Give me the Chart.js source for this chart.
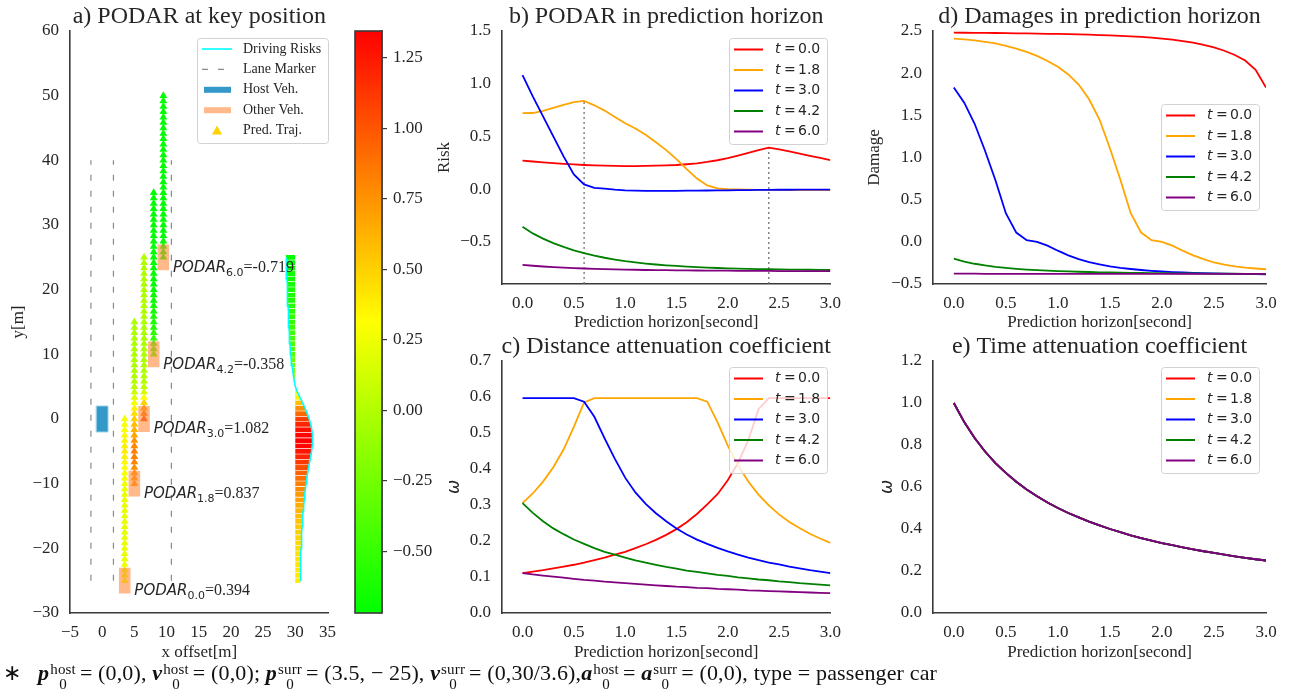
<!DOCTYPE html>
<html lang="en">
<head>
<meta charset="utf-8">
<title>PODAR</title>
<script src="https://cdn.jsdelivr.net/npm/chart.js@4.4.1/dist/chart.umd.min.js"></script>
<style>
    html, body { margin: 0; background: #fff; }
    #figure { position: relative; width: 1289px; height: 691px; overflow: hidden; background: #fff; }
    #figure canvas { position: absolute; }
    .note { position: absolute; left: 3px; top: 662px; font: 22px 'Liberation Serif', serif; color: #111; white-space: nowrap; line-height: 22px; letter-spacing: 0.15px; }
    .note b { font-style: italic; }
    .st { display: inline-block; vertical-align: -9px; font-size: 15px; line-height: 15px; margin: 0 4px 0 1px; text-align: center; }
    .st span { display: block; }
</style>
</head>
<body>
<div id="figure">
    <canvas id="keyPos" width="345" height="675" style="left:0;top:0"></canvas>
    <canvas id="riskBar" width="100" height="660" style="left:340px;top:0"></canvas>
    <canvas id="podarChart" width="420" height="335" style="left:430px;top:0"></canvas>
    <canvas id="distChart" width="420" height="335" style="left:430px;top:330px"></canvas>
    <canvas id="damageChart" width="429" height="335" style="left:860px;top:0"></canvas>
    <canvas id="timeChart" width="429" height="335" style="left:860px;top:330px"></canvas>
    <div class="note">∗&nbsp;&nbsp; <b>p</b><span class="st"><span>host</span><span>0</span></span>= (0,0), <b>v</b><span class="st"><span>host</span><span>0</span></span>= (0,0); <b>p</b><span class="st"><span>surr</span><span>0</span></span>= (3.5, − 25), <b>v</b><span class="st"><span>surr</span><span>0</span></span>= (0,30/3.6),<b>a</b><span class="st"><span>host</span><span>0</span></span>= <b>a</b><span class="st"><span>surr</span><span>0</span></span>= (0,0), type = passenger car</div>
</div>
<script>
// prediction horizon steps [s]
const horizon = [0.0, 0.1, 0.2, 0.3, 0.4, 0.5, 0.6, 0.7, 0.8, 0.9, 1.0, 1.1, 1.2, 1.3, 1.4, 1.5,
    1.6, 1.7, 1.8, 1.9, 2.0, 2.1, 2.2, 2.3, 2.4, 2.5, 2.6, 2.7, 2.8, 2.9, 3.0];
const keyTimes = [0.0, 1.8, 3.0, 4.2, 6.0];
const seriesColors = ['#ff0000', '#ffa500', '#0000ff', '#008000', '#800080'];

// b) PODAR inside the horizon, one row per key time
const podar = [
    [0.270, 0.262, 0.254, 0.246, 0.240, 0.234, 0.229, 0.225, 0.222, 0.220, 0.219, 0.219, 0.220, 0.222, 0.225, 0.229,
     0.236, 0.245, 0.258, 0.274, 0.294, 0.318, 0.344, 0.370, 0.394, 0.378, 0.358, 0.337, 0.316, 0.296, 0.276],
    [0.720, 0.722, 0.742, 0.770, 0.800, 0.825, 0.837, 0.795, 0.745, 0.685, 0.625, 0.575, 0.515, 0.445, 0.370, 0.285,
     0.190, 0.100, 0.035, 0.008, 0.000, -0.003, -0.005, -0.007, -0.008, -0.009, -0.010, -0.010, -0.010, -0.010, -0.010],
    [1.082, 0.880, 0.690, 0.500, 0.310, 0.140, 0.045, 0.012, 0.004, -0.005, -0.011, -0.014, -0.016, -0.016, -0.016, -0.016,
     -0.015, -0.014, -0.013, -0.012, -0.011, -0.010, -0.009, -0.008, -0.007, -0.006, -0.006, -0.005, -0.005, -0.004, -0.004],
    [-0.358, -0.420, -0.470, -0.512, -0.548, -0.580, -0.607, -0.631, -0.651, -0.668, -0.683, -0.695, -0.706, -0.715, -0.723, -0.729,
     -0.735, -0.740, -0.744, -0.748, -0.751, -0.754, -0.756, -0.758, -0.760, -0.762, -0.763, -0.764, -0.765, -0.766, -0.767],
    [-0.719, -0.727, -0.734, -0.740, -0.745, -0.749, -0.753, -0.756, -0.759, -0.761, -0.763, -0.765, -0.767, -0.768, -0.769, -0.770,
     -0.771, -0.772, -0.773, -0.774, -0.774, -0.775, -0.775, -0.776, -0.776, -0.777, -0.777, -0.777, -0.778, -0.778, -0.778]
];

// c) distance attenuation coefficient
const distCoef = [
    [0.111, 0.115, 0.119, 0.124, 0.129, 0.134, 0.140, 0.147, 0.154, 0.162, 0.170, 0.180, 0.191, 0.203, 0.217, 0.233,
     0.252, 0.275, 0.302, 0.330, 0.369, 0.417, 0.480, 0.566, 0.597, 0.597, 0.597, 0.597, 0.597, 0.597, 0.597],
    [0.305, 0.332, 0.365, 0.405, 0.454, 0.517, 0.585, 0.597, 0.597, 0.597, 0.597, 0.597, 0.597, 0.597, 0.597, 0.597,
     0.597, 0.597, 0.587, 0.530, 0.465, 0.410, 0.365, 0.329, 0.299, 0.274, 0.253, 0.236, 0.220, 0.207, 0.195],
    [0.597, 0.597, 0.597, 0.597, 0.597, 0.597, 0.587, 0.545, 0.485, 0.428, 0.376, 0.335, 0.303, 0.277, 0.255, 0.235,
     0.218, 0.204, 0.192, 0.181, 0.171, 0.162, 0.154, 0.147, 0.140, 0.135, 0.129, 0.124, 0.119, 0.115, 0.111],
    [0.305, 0.278, 0.255, 0.235, 0.219, 0.204, 0.192, 0.180, 0.170, 0.162, 0.154, 0.146, 0.140, 0.134, 0.128, 0.123,
     0.118, 0.114, 0.110, 0.106, 0.103, 0.099, 0.096, 0.093, 0.091, 0.088, 0.086, 0.083, 0.081, 0.079, 0.077],
    [0.111, 0.107, 0.104, 0.101, 0.098, 0.095, 0.092, 0.090, 0.087, 0.085, 0.083, 0.081, 0.079, 0.077, 0.075, 0.073,
     0.072, 0.070, 0.069, 0.067, 0.066, 0.065, 0.063, 0.062, 0.061, 0.060, 0.059, 0.058, 0.057, 0.056, 0.055]
];

// d) damage inside the horizon
const damage = [
    [2.480, 2.479, 2.478, 2.477, 2.476, 2.475, 2.473, 2.471, 2.469, 2.467, 2.465, 2.462, 2.459, 2.456, 2.452, 2.448,
     2.443, 2.437, 2.430, 2.421, 2.410, 2.397, 2.381, 2.361, 2.336, 2.305, 2.266, 2.216, 2.150, 2.040, 1.830],
    [2.410, 2.400, 2.390, 2.372, 2.352, 2.325, 2.292, 2.252, 2.205, 2.145, 2.075, 1.985, 1.865, 1.690, 1.450, 1.110,
     0.740, 0.340, 0.110, 0.020, 0.000, -0.045, -0.105, -0.160, -0.205, -0.245, -0.270, -0.290, -0.305, -0.316, -0.325],
    [1.830, 1.650, 1.400, 1.080, 0.730, 0.340, 0.110, 0.020, 0.000, -0.045, -0.105, -0.160, -0.205, -0.240, -0.268, -0.290,
     -0.308, -0.322, -0.334, -0.344, -0.352, -0.358, -0.363, -0.367, -0.371, -0.374, -0.377, -0.379, -0.381, -0.383, -0.385],
    [-0.200, -0.235, -0.260, -0.280, -0.296, -0.309, -0.320, -0.329, -0.336, -0.342, -0.347, -0.351, -0.355, -0.358, -0.361, -0.363,
     -0.365, -0.367, -0.369, -0.370, -0.372, -0.373, -0.374, -0.375, -0.376, -0.377, -0.378, -0.378, -0.379, -0.380, -0.380],
    [-0.378, -0.378, -0.378, -0.379, -0.379, -0.379, -0.379, -0.379, -0.380, -0.380, -0.380, -0.380, -0.380, -0.380, -0.380, -0.380,
     -0.380, -0.380, -0.380, -0.380, -0.380, -0.380, -0.380, -0.380, -0.380, -0.380, -0.380, -0.380, -0.380, -0.380, -0.380]
];

// e) time attenuation coefficient, identical for every key time
const timeCoef = [1.000, 0.909, 0.833, 0.769, 0.714, 0.667, 0.625, 0.588, 0.556, 0.526, 0.500, 0.476, 0.455, 0.435, 0.417, 0.400,
    0.385, 0.370, 0.357, 0.345, 0.333, 0.323, 0.313, 0.303, 0.294, 0.286, 0.278, 0.270, 0.263, 0.256, 0.250];

// a) surrounding vehicle at each key time (x shifted per key time so the columns don't overlap)
const surrX = [3.5, 5.0, 6.5, 8.0, 9.5];
const surrY = [-25, -10, 0, 10, 25];
const surrSpeed = 30 / 3.6;
const hostPos = [0, 0];
const vehWidth = 1.8;
const vehLength = 4.0;
const laneX = [-1.75, 1.75, 10.75];
const laneSpan = [-25, 40];

// driving risk over the whole run, drawn as a profile next to the road
const runTimes = [0.0, 0.1, 0.2, 0.3, 0.4, 0.5, 0.6, 0.7, 0.8, 0.9, 1.0, 1.1, 1.2, 1.3, 1.4, 1.5, 1.6, 1.7, 1.8, 1.9,
    2.0, 2.1, 2.2, 2.3, 2.4, 2.5, 2.6, 2.7, 2.8, 2.9, 3.0, 3.1, 3.2, 3.3, 3.4, 3.5, 3.6, 3.7, 3.8, 3.9,
    4.0, 4.1, 4.2, 4.3, 4.4, 4.5, 4.6, 4.7, 4.8, 4.9, 5.0, 5.1, 5.2, 5.3, 5.4, 5.5, 5.6, 5.7, 5.8, 5.9, 6.0];
const drivingRisk = [0.394, 0.400, 0.410, 0.420, 0.430, 0.440, 0.455, 0.470, 0.490, 0.510,
    0.530, 0.555, 0.585, 0.615, 0.650, 0.690, 0.735, 0.785, 0.837, 0.895,
    0.960, 1.035, 1.115, 1.195, 1.265, 1.315, 1.345, 1.330, 1.285, 1.200,
    1.082, 0.930, 0.760, 0.570, 0.365, 0.165, 0.010, -0.080, -0.145, -0.200,
    -0.255, -0.310, -0.358, -0.390, -0.420, -0.445, -0.468, -0.490, -0.510, -0.530,
    -0.550, -0.570, -0.588, -0.605, -0.622, -0.638, -0.654, -0.670, -0.686, -0.702, -0.719];
const riskBase = 30;
const riskStretch = 2;

// tick values
const xTicksA = [-5, 0, 5, 10, 15, 20, 25, 30, 35];
const yTicksA = [-30, -20, -10, 0, 10, 20, 30, 40, 50, 60];
const barTicks = [-0.5, -0.25, 0, 0.25, 0.5, 0.75, 1.0, 1.25];
const horizonTicks = [0, 0.5, 1.0, 1.5, 2.0, 2.5, 3.0];
const podarTicks = [-0.5, 0, 0.5, 1.0, 1.5];
const distTicks = [0, 0.1, 0.2, 0.3, 0.4, 0.5, 0.6, 0.7];
const damageTicks = [-0.5, 0, 0.5, 1.0, 1.5, 2.0, 2.5];
const timeTicks = [0, 0.2, 0.4, 0.6, 0.8, 1.0, 1.2];

const ink = '#262626';
const serif = "'Liberation Serif', serif";
const tickFont = { family: serif, size: 17 };
const labelFont = { family: serif, size: 17 };
const omegaFont = { family: "'DejaVu Sans'", size: 17, style: 'italic' };
const spine = { display: true, color: '#3a3a3a', width: 1.6 };

const cmapLow = Math.min(...drivingRisk);
const cmapHigh = Math.max(...drivingRisk);

// green -> yellow -> red
function riskColor(v) {
    const f = Math.min(1, Math.max(0, (v - cmapLow) / (cmapHigh - cmapLow)));
    if (f < 0.5) {
        return `rgb(${Math.round(510 * f)},255,0)`;
    }
    return `rgb(255,${Math.round(255 - 510 * (f - 0.5))},0)`;
}

const fmtTick = (decimals) => (v) => (v < 0 ? '\u2212' : '') + Math.abs(v).toFixed(decimals);

function axis(cfg) {
    const horizontal = cfg.position === 'bottom';
    return {
        type: 'linear',
        position: cfg.position,
        min: cfg.min,
        max: cfg.max,
        offset: false,
        grid: { display: false, drawTicks: false },
        border: spine,
        ticks: {
            color: ink,
            font: tickFont,
            padding: horizontal ? 9 : 11,
            autoSkip: false,
            maxRotation: 0,
            callback: fmtTick(cfg.decimals),
        },
        afterBuildTicks: (scale) => {
            scale.ticks = cfg.ticks.map((value) => ({ value }));
        },
        afterFit: (scale) => {
            if (horizontal) {
                scale.height = cfg.size;
            } else {
                scale.width = cfg.size;
            }
        },
        title: {
            display: true,
            text: cfg.title,
            color: ink,
            font: cfg.font || labelFont,
            padding: horizontal ? { top: 0, bottom: cfg.pad } : { top: cfg.pad, bottom: 0 },
        },
    };
}

const panelTitle = {
    id: 'panelTitle',
    afterDraw: (chart, args, opts) => {
        const { ctx, chartArea } = chart;
        ctx.save();
        ctx.font = `24px ${serif}`;
        ctx.fillStyle = ink;
        ctx.textAlign = 'center';
        ctx.textBaseline = 'alphabetic';
        ctx.fillText(opts.text, (chartArea.left + chartArea.right) / 2, chartArea.top - 8);
        ctx.restore();
    }
};

function legendFrame(ctx, x, y, w, h) {
    ctx.beginPath();
    if (ctx.roundRect) {
        ctx.roundRect(x + 0.5, y + 0.5, w, h, 3);
    } else {
        ctx.rect(x + 0.5, y + 0.5, w, h);
    }
    ctx.fillStyle = 'rgba(255,255,255,0.8)';
    ctx.fill();
    ctx.strokeStyle = '#d2d2d2';
    ctx.lineWidth = 1;
    ctx.stroke();
}

// legend for the horizon panels, drawn above the curves
const seriesLegend = {
    id: 'seriesLegend',
    afterDraw: (chart, args, opts) => {
        const ctx = chart.ctx;
        const x0 = opts.left;
        const y0 = opts.top;
        ctx.save();
        legendFrame(ctx, x0, y0, 98, 106);
        chart.data.datasets.forEach((ds, i) => {
            const cy = y0 + 11.5 + i * 20.5;
            ctx.beginPath();
            ctx.moveTo(x0 + 5, cy);
            ctx.lineTo(x0 + 34, cy);
            ctx.strokeStyle = ds.borderColor;
            ctx.lineWidth = 2;
            ctx.stroke();
            ctx.fillStyle = ink;
            ctx.textAlign = 'left';
            ctx.textBaseline = 'middle';
            ctx.font = "italic 14px 'DejaVu Sans'";
            ctx.fillText('t', x0 + 46, cy);
            ctx.font = "14px 'DejaVu Sans'";
            ctx.fillText('=', x0 + 55, cy);
            ctx.fillText(ds.label, x0 + 69, cy);
        });
        ctx.restore();
    }
};

// dotted drop lines from the peak of every curve that peaks later in the horizon
const peakLines = {
    id: 'peakLines',
    beforeDatasetsDraw: (chart) => {
        const { ctx, chartArea, scales: { x, y } } = chart;
        ctx.save();
        ctx.setLineDash([2, 3]);
        ctx.strokeStyle = '#666';
        ctx.lineWidth = 1.2;
        chart.data.datasets.forEach((ds) => {
            const ys = ds.data.map((p) => p.y);
            const k = ys.indexOf(Math.max(...ys));
            if (k === 0) return;
            const px = x.getPixelForValue(ds.data[k].x);
            ctx.beginPath();
            ctx.moveTo(px, chartArea.bottom);
            ctx.lineTo(px, y.getPixelForValue(ds.data[k].y));
            ctx.stroke();
        });
        ctx.restore();
    }
};

function horizonChart(id, rows, cfg) {
    const plugins = [panelTitle, seriesLegend];
    if (cfg.peaks) plugins.push(peakLines);
    return new Chart(document.getElementById(id), {
        type: 'line',
        data: {
            datasets: rows.map((row, i) => ({
                label: keyTimes[i].toFixed(1),
                data: row.map((v, j) => ({ x: horizon[j], y: v })),
                borderColor: seriesColors[i],
                borderWidth: 1.8,
                pointRadius: 0,
                tension: 0,
                order: rows.length - i,
            })),
        },
        options: {
            responsive: false,
            animation: false,
            devicePixelRatio: 1,
            events: [],
            layout: { padding: { top: 31, right: cfg.right, left: 0, bottom: 0 } },
            scales: {
                x: axis({ position: 'bottom', min: -0.2, max: 3.0, ticks: horizonTicks, decimals: 1,
                    size: cfg.xSize, title: 'Prediction horizon[second]', pad: 1.8 }),
                y: axis({ position: 'left', min: cfg.min, max: cfg.max, ticks: cfg.ticks, decimals: 1,
                    size: cfg.ySize, title: cfg.yTitle, pad: cfg.yPad, font: cfg.yFont }),
            },
            plugins: {
                legend: { display: false },
                tooltip: { enabled: false },
                panelTitle: { text: cfg.title },
                seriesLegend: cfg.legend,
            },
        },
        plugins,
    });
}

// ---------- a) PODAR at key position ----------
function vehicleOutline(cx, cy) {
    const w = vehWidth / 2;
    const l = vehLength / 2;
    return [
        { x: cx - w, y: cy - l }, { x: cx + w, y: cy - l }, { x: cx + w, y: cy + l },
        { x: cx - w, y: cy + l }, { x: cx - w, y: cy - l },
    ];
}

const hostColor = '#3498c8';
const otherColor = 'rgba(255,138,60,0.6)';
const keyDatasets = [];

laneX.forEach((x) => keyDatasets.push({
    type: 'line',
    data: laneSpan.map((y) => ({ x, y })),
    borderColor: '#8a8a8a',
    borderWidth: 1.2,
    borderDash: [6, 10],
    pointRadius: 0,
    order: 10,
}));

keyDatasets.push({
    type: 'line',
    data: vehicleOutline(hostPos[0], hostPos[1]),
    fill: 'shape',
    backgroundColor: hostColor,
    borderColor: '#8fcbe6',
    borderWidth: 1,
    pointRadius: 0,
    order: 9,
});

keyTimes.forEach((t, i) => keyDatasets.push({
    type: 'line',
    showLine: false,
    data: horizon.map((h) => ({ x: surrX[i], y: surrY[i] + surrSpeed * h })),
    pointStyle: 'triangle',
    pointRadius: 4.5,
    pointBorderWidth: 0,
    pointBackgroundColor: podar[i].map(riskColor),
    order: 8,
}));

keyTimes.forEach((t, i) => keyDatasets.push({
    type: 'line',
    data: vehicleOutline(surrX[i], surrY[i]),
    fill: 'shape',
    backgroundColor: otherColor,
    borderWidth: 0,
    pointRadius: 0,
    order: 7,
}));

keyDatasets.push({
    type: 'bar',
    indexAxis: 'y',
    data: runTimes.map((t, i) => ({
        y: surrY[0] + surrSpeed * t,
        x: [riskBase, riskBase + riskStretch * drivingRisk[i]],
    })),
    backgroundColor: drivingRisk.map(riskColor),
    borderColor: 'rgba(255,255,255,0.85)',
    borderWidth: { top: 0.6, bottom: 0.6, left: 0, right: 0 },
    borderSkipped: false,
    barThickness: 5.4,
    grouped: false,
    order: 6,
});

keyDatasets.push({
    type: 'line',
    data: runTimes.map((t, i) => ({
        x: riskBase + riskStretch * drivingRisk[i],
        y: surrY[0] + surrSpeed * t,
    })),
    borderColor: '#00ffff',
    borderWidth: 1.6,
    pointRadius: 0,
    order: 5,
});

const keyLabels = {
    id: 'keyLabels',
    afterDatasetsDraw: (chart) => {
        const { ctx, scales: { x, y } } = chart;
        ctx.save();
        ctx.fillStyle = ink;
        ctx.textAlign = 'left';
        ctx.textBaseline = 'alphabetic';
        keyTimes.forEach((t, i) => {
            let px = x.getPixelForValue(surrX[i] + 1.5);
            const py = y.getPixelForValue(surrY[i] - 1.3) + 6;
            const sub = t.toFixed(1);
            ctx.font = "italic 15px 'DejaVu Sans'";
            ctx.fillText('PODAR', px, py);
            px += ctx.measureText('PODAR').width;
            ctx.font = "11px 'DejaVu Sans'";
            ctx.fillText(sub, px, py + 4);
            px += ctx.measureText(sub).width;
            ctx.font = `16px ${serif}`;
            ctx.fillText('=' + Math.max(...podar[i]).toFixed(3), px, py);
        });
        ctx.restore();
    }
};

const keyLegend = {
    id: 'keyLegend',
    afterDraw: (chart) => {
        const ctx = chart.ctx;
        const x0 = 197;
        const y0 = 38;
        const items = [
            { text: 'Driving Risks', kind: 'line', color: '#00ffff' },
            { text: 'Lane Marker', kind: 'dash', color: '#8a8a8a' },
            { text: 'Host Veh.', kind: 'rect', color: hostColor },
            { text: 'Other Veh.', kind: 'rect', color: otherColor },
            { text: 'Pred. Traj.', kind: 'tri', color: '#ffd200' },
        ];
        ctx.save();
        legendFrame(ctx, x0, y0, 131, 105);
        items.forEach((item, i) => {
            const cy = y0 + 11 + i * 20.4;
            ctx.strokeStyle = item.color;
            ctx.fillStyle = item.color;
            if (item.kind === 'line' || item.kind === 'dash') {
                ctx.setLineDash(item.kind === 'dash' ? [6, 10] : []);
                ctx.lineWidth = item.kind === 'dash' ? 1.2 : 1.6;
                ctx.beginPath();
                ctx.moveTo(x0 + 5, cy);
                ctx.lineTo(x0 + 35, cy);
                ctx.stroke();
                ctx.setLineDash([]);
            } else if (item.kind === 'rect') {
                ctx.fillRect(x0 + 7, cy - 3, 27, 6);
            } else {
                ctx.beginPath();
                ctx.moveTo(x0 + 20, cy - 5);
                ctx.lineTo(x0 + 25, cy + 4);
                ctx.lineTo(x0 + 15, cy + 4);
                ctx.closePath();
                ctx.fill();
            }
            ctx.fillStyle = ink;
            ctx.font = `14px ${serif}`;
            ctx.textAlign = 'left';
            ctx.textBaseline = 'middle';
            ctx.fillText(item.text, x0 + 46, cy);
        });
        ctx.restore();
    }
};

new Chart(document.getElementById('keyPos'), {
    type: 'line',
    data: { datasets: keyDatasets },
    options: {
        responsive: false,
        animation: false,
        devicePixelRatio: 1,
        events: [],
        layout: { padding: { top: 31, right: 8, left: 0, bottom: 0 } },
        scales: {
            x: axis({ position: 'bottom', min: -5, max: 35.2, ticks: xTicksA, decimals: 0,
                size: 62, title: 'x offset[m]', pad: 11.8 }),
            y: axis({ position: 'left', min: -30, max: 60, ticks: yTicksA, decimals: 0,
                size: 70, title: 'y[m]', pad: 8 }),
        },
        plugins: {
            legend: { display: false },
            tooltip: { enabled: false },
            panelTitle: { text: 'a) PODAR at key position' },
        },
    },
    plugins: [panelTitle, keyLabels, keyLegend],
});

// colour bar for the risk colouring
const colorbarFill = {
    id: 'colorbarFill',
    beforeDatasetsDraw: (chart) => {
        const { ctx, chartArea, scales: { y } } = chart;
        const grad = ctx.createLinearGradient(0, y.getPixelForValue(cmapLow), 0, y.getPixelForValue(cmapHigh));
        grad.addColorStop(0, '#00ff00');
        grad.addColorStop(0.5, '#ffff00');
        grad.addColorStop(1, '#ff0000');
        ctx.save();
        ctx.fillStyle = grad;
        ctx.fillRect(chartArea.left, chartArea.top, chartArea.width, chartArea.height);
        ctx.strokeStyle = '#3a3a3a';
        ctx.lineWidth = 1.6;
        ctx.strokeRect(chartArea.left, chartArea.top, chartArea.width, chartArea.height);
        ctx.restore();
    }
};

new Chart(document.getElementById('riskBar'), {
    type: 'line',
    data: { datasets: [] },
    options: {
        responsive: false,
        animation: false,
        devicePixelRatio: 1,
        events: [],
        layout: { padding: { top: 31, right: 0, left: 15, bottom: 47 } },
        scales: {
            x: { type: 'linear', display: false, min: 0, max: 1 },
            y: {
                type: 'linear',
                position: 'right',
                min: cmapLow,
                max: cmapHigh,
                grid: { display: true, drawOnChartArea: false, drawTicks: true, tickLength: 5, color: '#3a3a3a', lineWidth: 1.2 },
                border: spine,
                ticks: { color: ink, font: tickFont, padding: 6, autoSkip: false, callback: fmtTick(2) },
                afterBuildTicks: (scale) => {
                    scale.ticks = barTicks.map((value) => ({ value }));
                },
                afterFit: (scale) => {
                    scale.width = 58;
                },
            },
        },
        plugins: { legend: { display: false }, tooltip: { enabled: false } },
    },
    plugins: [colorbarFill],
});

// ---------- b) - e) ----------
horizonChart('podarChart', podar, {
    title: 'b) PODAR in prediction horizon', min: -0.9, max: 1.5, ticks: podarTicks,
    yTitle: 'Risk', ySize: 72, yPad: 4.8, xSize: 51, right: 16, peaks: true,
    legend: { left: 299, top: 38 },
});

horizonChart('distChart', distCoef, {
    title: 'c) Distance attenuation coefficient', min: 0, max: 0.7, ticks: distTicks,
    yTitle: 'ω', yFont: omegaFont, ySize: 72, yPad: 14.8, xSize: 52, right: 16,
    legend: { left: 299, top: 37 },
});

horizonChart('damageChart', damage, {
    title: 'd) Damages in prediction horizon', min: -0.5, max: 2.5, ticks: damageTicks,
    yTitle: 'Damage', ySize: 73, yPad: 4.8, xSize: 51, right: 23,
    legend: { left: 301, top: 104 },
});

horizonChart('timeChart', keyTimes.map(() => timeCoef), {
    title: 'e) Time attenuation coefficient', min: 0, max: 1.2, ticks: timeTicks,
    yTitle: 'ω', yFont: omegaFont, ySize: 73, yPad: 17.8, xSize: 52, right: 23,
    legend: { left: 301, top: 37 },
});
</script>
</body>
</html>
